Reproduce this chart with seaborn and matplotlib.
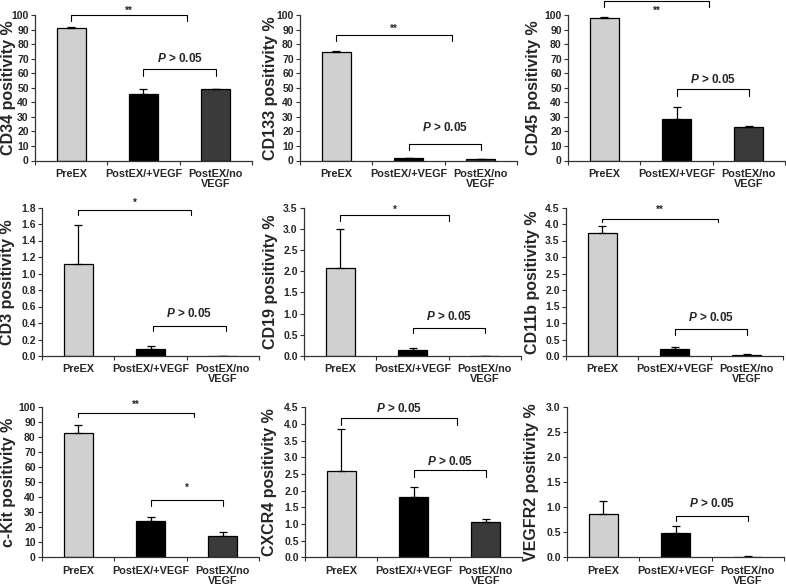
import numpy as np
import pandas as pd
import matplotlib
matplotlib.use('Agg')
import matplotlib.pyplot as plt
import seaborn as sns

groups = ['PreEX', 'PostEX/+VEGF', 'PostEX/no\nVEGF']
markers = ['CD34', 'CD133', 'CD45', 'CD3', 'CD19', 'CD11b', 'c-Kit', 'CXCR4', 'VEGFR2']

# mean and upper error
means = {
  'CD34': [91.3, 45.9, 49.0],
  'CD133': [74.5, 1.6, 0.7],
  'CD45': [98.2, 28.5, 23.2],
  'CD3': [1.11, 0.09, 0.0],
  'CD19': [2.08, 0.14, 0.0],
  'CD11b': [3.72, 0.20, 0.03],
  'c-Kit': [83.2, 24.3, 14.4],
  'CXCR4': [2.58, 1.80, 1.06],
  'VEGFR2': [0.86, 0.49, 0.01],
}
errors = {
  'CD34': [0.5, 3.3, 0.4],
  'CD133': [0.6, 0.3, 0.1],
  'CD45': [0.5, 8.2, 0.4],
  'CD3': [0.48, 0.035, 0.0],
  'CD19': [0.92, 0.06, 0.0],
  'CD11b': [0.22, 0.08, 0.03],
  'c-Kit': [4.8, 2.4, 2.6],
  'CXCR4': [1.27, 0.32, 0.08],
  'VEGFR2': [0.26, 0.14, 0.015],
}
y_max = {'CD34': 100, 'CD133': 100, 'CD45': 100, 'CD3': 1.8, 'CD19': 3.5,
         'CD11b': 4.5, 'c-Kit': 100, 'CXCR4': 4.5, 'VEGFR2': 3.0}
y_step = {'CD34': 10, 'CD133': 10, 'CD45': 10, 'CD3': 0.2, 'CD19': 0.5,
          'CD11b': 0.5, 'c-Kit': 10, 'CXCR4': 0.5, 'VEGFR2': 0.5}

# significance brackets: (x0, x1, y, y_drop, label, label_y)
brackets = {
  'CD34': [(0, 1.6, 100, 96, '**', 103), (1, 2, 62.8, 58, 'P', 70)],
  'CD133': [(0, 1.6, 86, 82, '**', 90.5), (1, 2, 11.6, 7, 'P', 22.6)],
  'CD45': [(0, 1.45, 109.6, 105.5, '**', 102.7), (1, 2, 49.3, 44, 'P', 55.5)],
  'CD3': [(0, 1.56, 1.77, 1.71, '*', 1.86), (1.03, 2.04, 0.364, 0.30, 'P', 0.52)],
  'CD19': [(0, 1.5, 3.33, 3.18, '*', 3.45), (1, 2, 0.66, 0.55, 'P', 0.94)],
  'CD11b': [(0, 1.6, 4.15, 4.05, '**', 4.42), (1, 2, 0.83, 0.65, 'P', 1.17)],
  'c-Kit': [(0, 1.6, 96, 93.3, '**', 101.5), (1, 2, 38.2, 34.4, '*', 46.5)],
  'CXCR4': [(0, 1.6, 4.17, 3.97, 'P', 4.45), (1, 2, 2.62, 2.42, 'P', 2.87)],
  'VEGFR2': [(1, 2, 0.83, 0.73, 'P', 1.08)],
}

bar_colors = ['#d0d0d0', '#000000', '#3a3a3a']

sns.set_style('white')
plt.rcParams['font.family'] = ['Liberation Sans', 'DejaVu Sans']
plt.rcParams['font.weight'] = 'bold'
plt.rcParams['mathtext.fontset'] = 'custom'
plt.rcParams['mathtext.it'] = 'Liberation Sans:italic:bold'
plt.rcParams['mathtext.rm'] = 'Liberation Sans:bold'

W, H = 786, 585
fig = plt.figure(figsize=(W / 100, H / 100), dpi=100)

# axes boxes in pixels: left, top(ymax), bottom(0)
lefts = [[35, 300, 568], [42, 304, 566], [42, 305, 567]]
tops = [15, 207.5, 407.3]
bottoms = [160.5, 356, 557.3]
width_px = 217
label_off = [[-19, -22, -27], [-27, -26, -26], [-26, -28, -28]]

for k, m in enumerate(markers):
  r, c = divmod(k, 3)
  l = lefts[r][c]
  ax = fig.add_axes([l / W, 1 - bottoms[r] / H, width_px / W, (bottoms[r] - tops[r]) / H])
  df = pd.DataFrame({'group': groups, 'value': means[m]})
  sns.barplot(data=df, x='group', y='value', hue='group', palette=bar_colors,
              width=0.4, edgecolor='black', linewidth=0.9, legend=False, ax=ax)
  ax.errorbar(range(3), means[m], yerr=[np.zeros(3), errors[m]], fmt='none',
              ecolor='black', elinewidth=0.9, capsize=3, capthick=0.9)

  ax.set_xlim(-0.5, 2.5)
  ax.set_ylim(0, y_max[m])
  ticks = np.arange(0, y_max[m] + y_step[m] / 2, y_step[m])
  ax.set_yticks(ticks)
  if y_step[m] < 1:
    ax.set_yticklabels([f'{t:.1f}' for t in ticks])
  else:
    ax.set_yticklabels([f'{t:.0f}' for t in ticks])
  ax.tick_params(axis='y', direction='out', length=3, width=0.8, pad=1.5,
                 labelsize=7.5, left=True, color='#333333')
  ax.set_xticks(range(3))
  ax.set_xticklabels(groups, fontsize=7.8, fontweight='bold', linespacing=1.0)
  ax.tick_params(axis='x', which='major', length=0, pad=6)
  ax.set_xticks([-0.5, 0.5, 1.5, 2.5], minor=True)
  ax.tick_params(axis='x', which='minor', direction='out', length=3, width=0.8,
                 bottom=True, color='#333333')
  for lab in ax.get_yticklabels():
    lab.set_fontweight('bold')
  ax.set_xlabel('')
  ax.set_ylabel(f'{m} positivity %', fontsize=11.5, fontweight='bold')
  ax.yaxis.set_label_coords(label_off[r][c] / width_px, 0.5)
  sns.despine(ax=ax)
  for s in ['left', 'bottom']:
    ax.spines[s].set_linewidth(0.9)
    ax.spines[s].set_color('#333333')

  for x0, x1, y, yd, lab, ly in brackets[m]:
    ax.plot([x0, x0, x1, x1], [yd, y, y, yd], color='black', lw=0.8, clip_on=False)
    if lab == 'P':
      ax.text((x0 + x1) / 2, ly, r'$P$ > 0.05', ha='center', va='center',
              fontsize=8.5, fontweight='bold')
    else:
      ax.text((x0 + x1) / 2, ly, lab, ha='center', va='center',
              fontsize=7, fontweight='bold')

fig.savefig('out.png', dpi=100)
